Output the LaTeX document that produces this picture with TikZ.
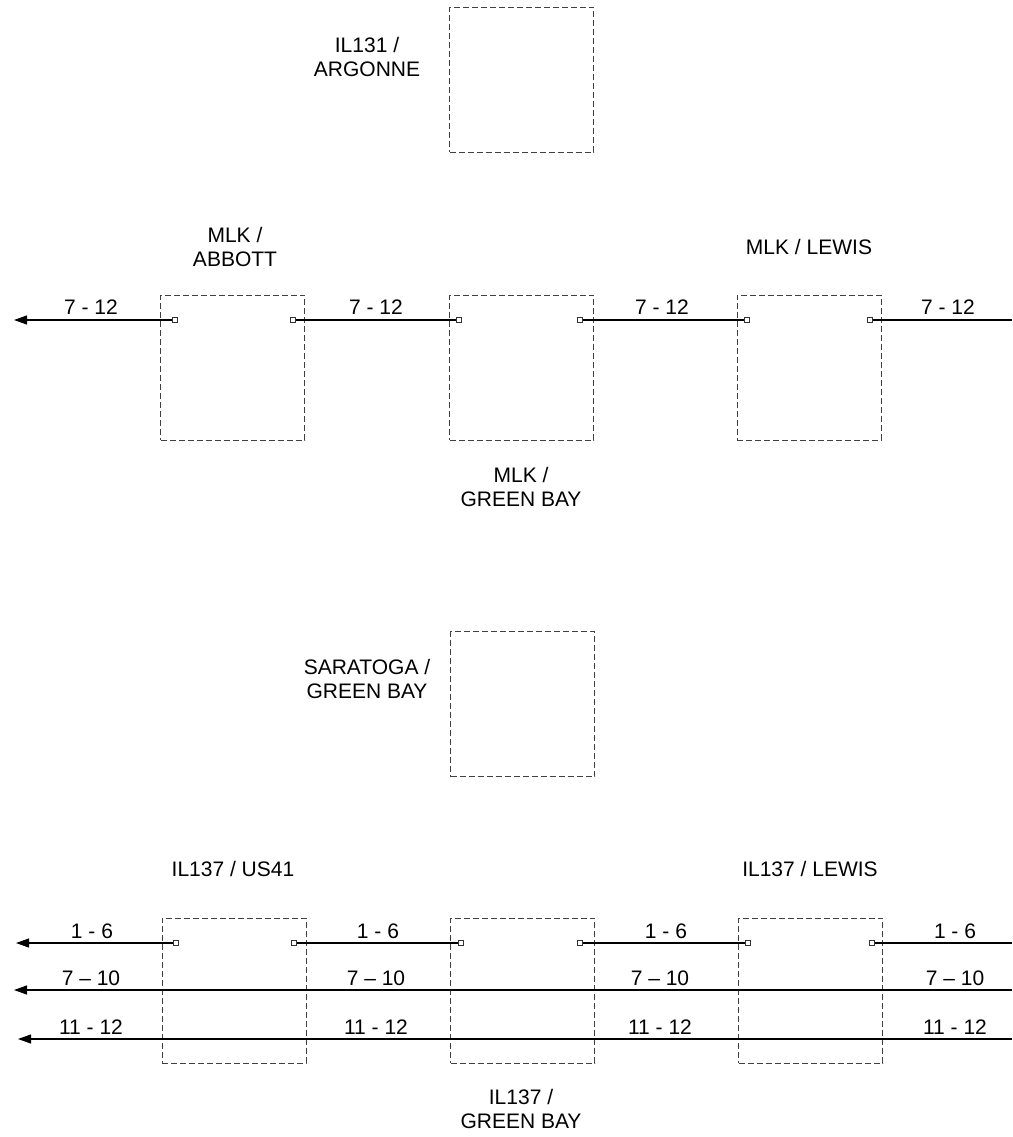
\documentclass[tikz,border=0pt]{standalone}
\usepackage{fontspec}
\setmainfont{Liberation Sans}
\usetikzlibrary{arrows.meta}
\begin{document}
\begin{tikzpicture}[x=1pt,y=-1pt,
  box/.style={draw=black!75, dash pattern=on 6pt off 3pt, line width=0.9pt, minimum width=144pt, minimum height=145pt, inner sep=0pt},
  pin/.style={draw=black!80, fill=white, line width=0.6pt, minimum size=4.5pt, inner sep=0pt},
  conn/.style={draw=black, line width=1.2pt},
  arr/.style={conn, -{Triangle[length=13pt,width=9pt]}},
  lbl/.style={font=\fontsize{21}{24}\selectfont, inner sep=0pt, align=center},
  ttl/.style={font=\fontsize{21}{24}\selectfont, inner sep=0pt, align=center}]
\useasboundingbox (0,0) rectangle (1012,1137);
% boxes
\node[box] (argonne) at (521.5,79.5) {};
\node[box] (abbott) at (232.5,367.5) {};
\node[box] (greenbay1) at (521.5,367.5) {};
\node[box] (lewis1) at (809,367.5) {};
\node[box] (saratoga) at (522.5,704) {};
\node[box] (us41) at (234,990.5) {};
\node[box] (greenbay2) at (522.5,990.5) {};
\node[box] (lewis2) at (810.5,990.5) {};
% titles
\node[ttl] (targonne) at (367,57) {IL131 /\\ARGONNE};
\node[ttl] (tabbott) at (235,247) {MLK /\\ABBOTT};
\node[ttl] (tlewis1) at (809,247) {MLK / LEWIS};
\node[ttl] (tgreenbay1) at (521,487) {MLK /\\GREEN BAY};
\node[ttl] (tsaratoga) at (367,679) {SARATOGA /\\GREEN BAY};
\node[ttl] (tus41) at (233,869) {IL137 / US41};
\node[ttl] (tlewis2) at (810,869) {IL137 / LEWIS};
\node[ttl] (tgreenbay2) at (521,1109) {IL137 /\\GREEN BAY};
% row 1 terminals
\node[pin] (a1) at (175,320) {};
\node[pin] (a2) at (293,320) {};
\node[pin] (b1) at (459,320) {};
\node[pin] (b2) at (580,320) {};
\node[pin] (c1) at (747,320) {};
\node[pin] (c2) at (870,320) {};
\coordinate (aend) at (14,320);
\coordinate (cend) at (1012,320);
\draw[arr] (a1) -- (aend);
\draw[conn] (a2) -- (b1);
\draw[conn] (b2) -- (c1);
\draw[conn] (c2) -- (cend);
\node[lbl] (l1a) at (91,307) {7 - 12};
\node[lbl] (l1b) at (376,307) {7 - 12};
\node[lbl] (l1c) at (662,307) {7 - 12};
\node[lbl] (l1d) at (948,307) {7 - 12};
% row 2 terminals
\node[pin] (d1) at (176,943) {};
\node[pin] (d2) at (294,943) {};
\node[pin] (e1) at (461,943) {};
\node[pin] (e2) at (580,943) {};
\node[pin] (f1) at (748,943) {};
\node[pin] (f2) at (872,943) {};
\coordinate (dend) at (16,943);
\coordinate (fend) at (1012,943);
\draw[arr] (d1) -- (dend);
\draw[conn] (d2) -- (e1);
\draw[conn] (e2) -- (f1);
\draw[conn] (f2) -- (fend);
\node[lbl] (l2a) at (92,931) {1 - 6};
\node[lbl] (l2b) at (378,931) {1 - 6};
\node[lbl] (l2c) at (666,931) {1 - 6};
\node[lbl] (l2d) at (955,931) {1 - 6};
% long lines
\coordinate (gstart) at (1012,990);
\coordinate (gend) at (14,990);
\draw[arr] (gstart) -- (gend);
\node[lbl] (l3a) at (91,978) {7 -- 10};
\node[lbl] (l3b) at (376,978) {7 -- 10};
\node[lbl] (l3c) at (660,978) {7 -- 10};
\node[lbl] (l3d) at (955,978) {7 -- 10};
\coordinate (hstart) at (1012,1039);
\coordinate (hend) at (18,1039);
\draw[arr] (hstart) -- (hend);
\node[lbl] (l4a) at (91,1027) {11 - 12};
\node[lbl] (l4b) at (376,1027) {11 - 12};
\node[lbl] (l4c) at (660,1027) {11 - 12};
\node[lbl] (l4d) at (955,1027) {11 - 12};
\end{tikzpicture}
\end{document}
